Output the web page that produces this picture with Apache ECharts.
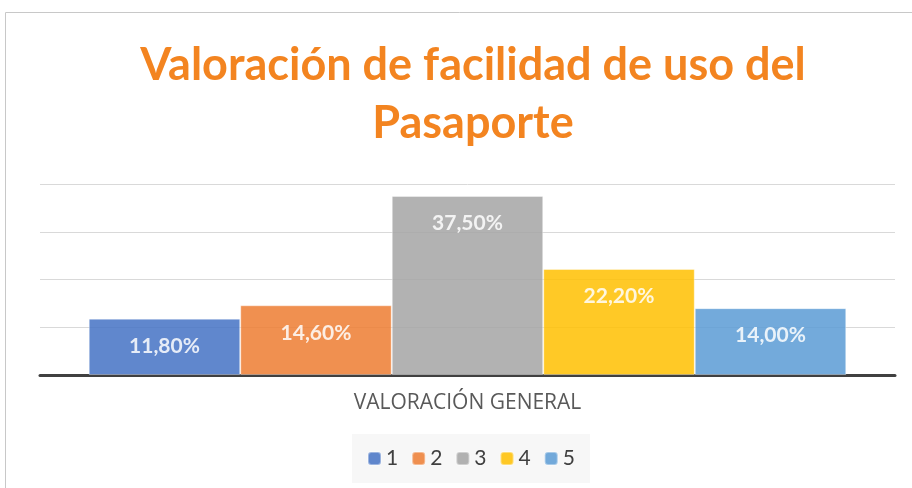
<!DOCTYPE html>
<html>
<head>
<meta charset="utf-8">
<script src="https://cdn.jsdelivr.net/npm/echarts@6/dist/echarts.min.js"></script>
<style>
  html, body { margin: 0; padding: 0; background: #fff; }
  #chart { width: 912px; height: 488px; }
</style>
</head>
<body>
<div id="chart"></div>
<script>
// chart data
const categories = ["VALORACIÓN GENERAL"];
const seriesNames = ["1", "2", "3", "4", "5"];
const seriesValues = [11.8, 14.6, 37.5, 22.2, 14.0];
const seriesColors = ["#4472C4", "#ED7D31", "#A5A5A5", "#FFC000", "#5B9BD5"];

const fmt = (v) => v.toFixed(2).replace(".", ",") + "%";

let chart = echarts.init(document.getElementById("chart"));

let series = seriesNames.map((name, i) => ({
  name: name,
  type: "bar",
  data: [seriesValues[i]],
  barGap: "0%",
  barCategoryGap: "11.4%",
  itemStyle: {
    color: seriesColors[i],
    opacity: 0.85,
    borderColor: "rgba(255,255,255,0.45)",
    borderWidth: 1
  },
  label: {
    show: true,
    position: "insideTop",
    distance: 17,
    color: "#fff",
    fontFamily: "Lato",
    fontWeight: "bold",
    fontSize: 21,
    formatter: (p) => fmt(p.value)
  }
}));

chart.setOption({
  animation: false,
  title: {
    text: "Valoración de facilidad de uso del\nPasaporte",
    left: 468,
    textAlign: "center",
    top: 31,
    textStyle: {
      color: "#F38420",
      fontFamily: "Lato",
      fontWeight: "bold",
      fontSize: 45,
      lineHeight: 58
    }
  },
  graphic: [{
    type: "polyline",
    shape: { points: [[5.5, 500], [5.5, 12.5], [920, 12.5]] },
    style: { stroke: "#c8c8c8", lineWidth: 1, fill: null }
  }],
  legend: {
    bottom: 5,
    left: 352,
    backgroundColor: "#f7f7f7",
    padding: [14, 15, 14, 15],
    itemWidth: 13,
    itemHeight: 13,
    itemGap: 13,
    textStyle: { color: "#404040", fontSize: 21, fontFamily: "Lato" },
    data: seriesNames
  },
  grid: { left: 40, right: 17, top: 184, bottom: 113 },
  xAxis: {
    type: "category",
    data: categories,
    axisLine: { lineStyle: { color: "#404040", width: 3 } },
    axisTick: { show: false },
    axisLabel: { color: "#595959", fontSize: 21, fontFamily: "Open Sans", margin: 18 }
  },
  yAxis: {
    type: "value",
    min: 0,
    max: 40,
    interval: 10,
    axisLabel: { show: false },
    axisLine: { show: false },
    axisTick: { show: false },
    splitLine: { lineStyle: { color: "#d9d9d9", width: 1 } }
  },
  series: series
});
</script>
</body>
</html>
